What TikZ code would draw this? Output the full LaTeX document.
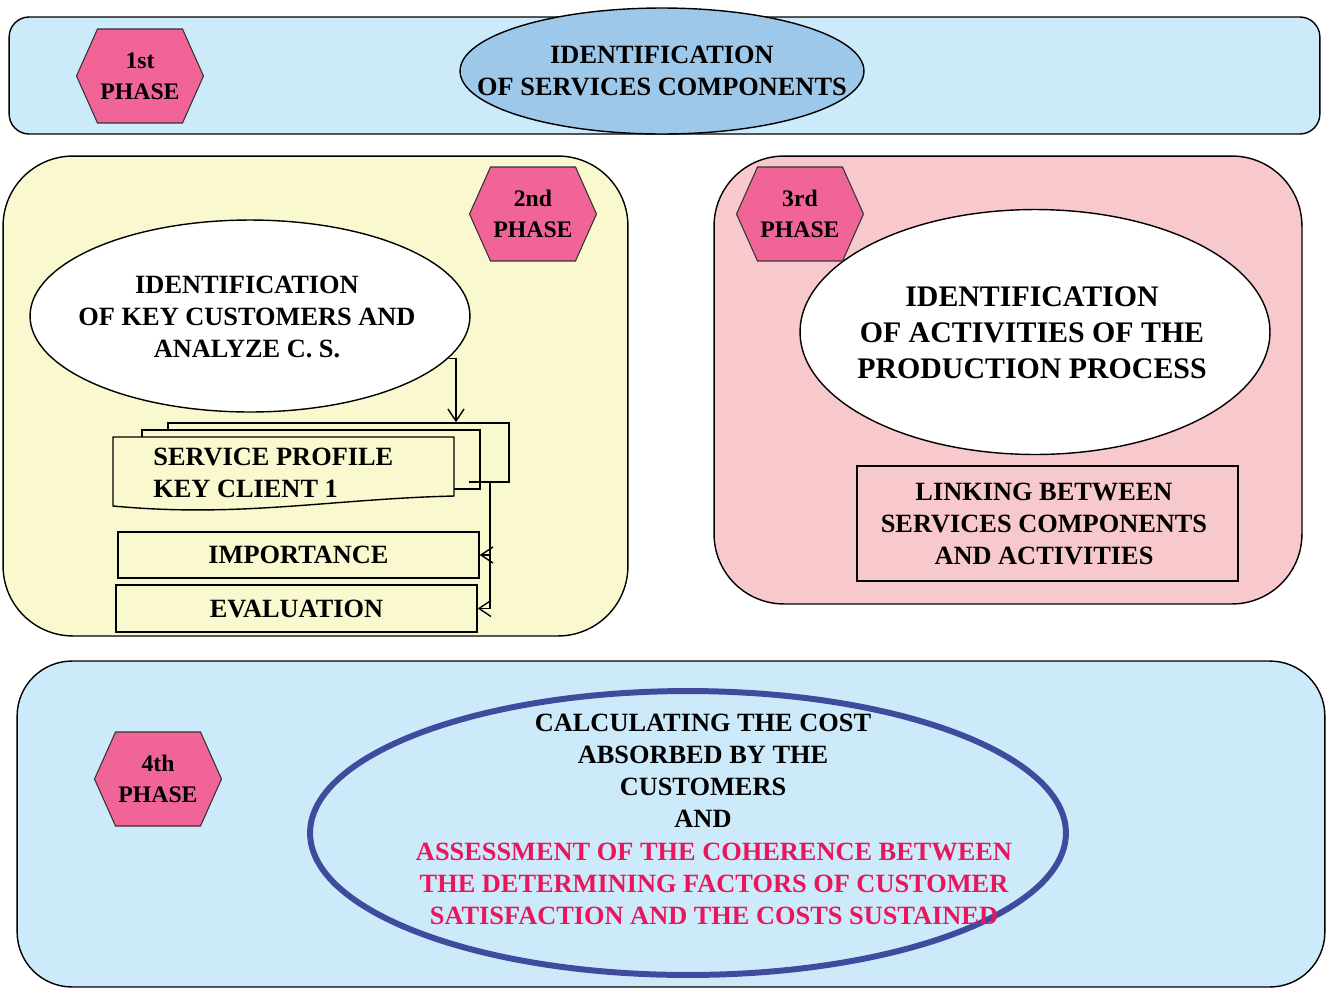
\documentclass[tikz,border=0pt]{standalone}
\usepackage{fontspec}
\setmainfont{Liberation Serif}
\usepackage{xcolor}
\usepackage{tikz}
\usetikzlibrary{arrows.meta,positioning,shapes.geometric}
\definecolor{skypanel}{HTML}{CDEAFB}
\definecolor{skyoval}{HTML}{9DC8EA}
\definecolor{rosepanel}{HTML}{F8C9CC}
\definecolor{lemonpanel}{HTML}{FAF8CE}
\definecolor{phasepink}{HTML}{F06497}
\definecolor{ovalnavy}{HTML}{3F4C9E}
\definecolor{assesspink}{HTML}{E8175D}
\tikzset{
  panel/.style={rectangle, draw=black, line width=0.8pt, rounded corners=#1,
    inner sep=0pt, outer sep=0pt},
  panel/.default=0.4cm,
  phaseframe/.style={rectangle, minimum width=2.54cm, minimum height=1.88cm,
    inner sep=0pt, outer sep=0pt},
  phasehex/.style={draw=black!80, line width=0.6pt, fill=phasepink},
  phasetxt/.style={align=center, inner sep=0pt,
    font=\fontsize{13.5}{17.6}\selectfont\bfseries},
  oval/.style={ellipse, draw=black, line width=0.8pt, fill=white, inner sep=0pt},
  txt/.style={align=center, inner sep=0pt, font=\fontsize{15}{18.2}\selectfont\bfseries},
  bigtxt/.style={align=center, inner sep=0pt, font=\fontsize{17}{20.5}\selectfont\bfseries},
  sheet/.style={rectangle, draw=black, line width=0.8pt, fill=lemonpanel, inner sep=0pt},
  flow/.style={-{Straight Barb[length=2.4mm,width=3.2mm]}, line width=0.8pt},
  link/.style={line width=0.8pt},
}
\newcommand{\hexof}[1]{%
  \draw[phasehex] (#1.west) -- ([xshift=0.42cm]#1.north west) -- ([xshift=-0.42cm]#1.north east)
    -- (#1.east) -- ([xshift=-0.42cm]#1.south east) -- ([xshift=0.42cm]#1.south west) -- cycle;}

\begin{document}
\begin{tikzpicture}[x=0.02cm, y=-0.02cm]
    \clip (0,0) rectangle (1326,988);

    \node[panel, fill=skypanel, minimum width=26.22cm, minimum height=2.34cm] (p1box) at (664.5,75.5) {};
    \node[panel=1.4cm, fill=lemonpanel, minimum width=12.5cm, minimum height=9.6cm] (p2box) at (315.5,396) {};
    \node[panel=1.4cm, fill=rosepanel, minimum width=11.76cm, minimum height=8.96cm] (p3box) at (1008,380) {};
    \node[panel=1.1cm, fill=skypanel, minimum width=26.16cm, minimum height=6.52cm] (p4box) at (671,824) {};

    \node[oval, fill=skyoval, minimum width=8.08cm, minimum height=2.52cm] (compoval) at (662,71) {};
    \node[txt] (comptxt) at (compoval.center) {IDENTIFICATION\\OF SERVICES COMPONENTS};

    \node[oval, minimum width=8.8cm, minimum height=3.84cm] (custoval) at (250,316) {};
    \node[txt] (custtxt) at (247,317) {IDENTIFICATION\\OF KEY CUSTOMERS AND\\ANALYZE C. S.};

    \node[sheet, minimum width=6.82cm, minimum height=1.18cm] (docback) at (338.5,452.5) {};
    \node[sheet, minimum width=6.76cm, minimum height=1.18cm] (docmid) at (311,459.5) {};
    \draw[link, fill=lemonpanel] (113,437) -- (454,437) -- (454,496)
      .. controls (330,499) and (240,518) .. (113,506) -- cycle;
    \node[txt, align=left, anchor=west] (doctxt) at (153,473) {SERVICE PROFILE\\KEY CLIENT 1};

    \node[sheet, minimum width=7.22cm, minimum height=0.92cm] (imp) at (298.5,555) {};
    \node[txt] (imptxt) at (imp.center) {IMPORTANCE};
    \node[sheet, minimum width=7.22cm, minimum height=0.94cm] (evl) at (296.5,608.5) {};
    \node[txt] (evltxt) at (evl.center) {EVALUATION};

    \draw[flow] (custoval.-12.3) -| ([xshift=2.35cm]docback.north);
    \coordinate (docout) at (469,482);
    \coordinate (fork) at (490,482);
    \draw[link] (docout) -- (fork);
    \draw[flow] (fork) |- (evl.east);
    \draw[flow] (fork |- imp.east) -- (imp.east);

    \node[oval, minimum width=9.4cm, minimum height=4.9cm] (actoval) at (1035,332) {};
    \node[bigtxt] (acttxt) at (1032,333) {IDENTIFICATION\\OF ACTIVITIES OF THE\\PRODUCTION PROCESS};

    \node[sheet, fill=rosepanel, minimum width=7.62cm, minimum height=2.3cm] (linkbox) at (1047.5,523.5) {};
    \node[txt] (linktxt) at (1044,524) {LINKING BETWEEN\\SERVICES COMPONENTS\\AND ACTIVITIES};

    \node[ellipse, draw=ovalnavy, line width=3.4pt, minimum width=15.12cm, minimum height=5.68cm,
      inner sep=0pt] (costoval) at (688,833) {};
    \node[txt] (costtxt) at (703,770.5) {CALCULATING THE COST\\ABSORBED BY THE\\CUSTOMERS\\AND};
    \node[txt, text=assesspink] (assesstxt) at (714,883.5)
      {ASSESSMENT OF THE COHERENCE BETWEEN\\THE DETERMINING FACTORS OF CUSTOMER\\SATISFACTION AND THE COSTS SUSTAINED};

    \node[phaseframe] (ph1) at (140,76) {};
    \node[phaseframe] (ph2) at (533,214) {};
    \node[phaseframe] (ph3) at (800,214) {};
    \node[phaseframe] (ph4) at (158,779) {};
    \hexof{ph1}
    \hexof{ph2}
    \hexof{ph3}
    \hexof{ph4}
    \node[phasetxt] (ph1txt) at (ph1) {1st\\PHASE};
    \node[phasetxt] (ph2txt) at (ph2) {2nd\\PHASE};
    \node[phasetxt] (ph3txt) at (ph3) {3rd\\PHASE};
    \node[phasetxt] (ph4txt) at (ph4) {4th\\PHASE};
\end{tikzpicture}
\end{document}
